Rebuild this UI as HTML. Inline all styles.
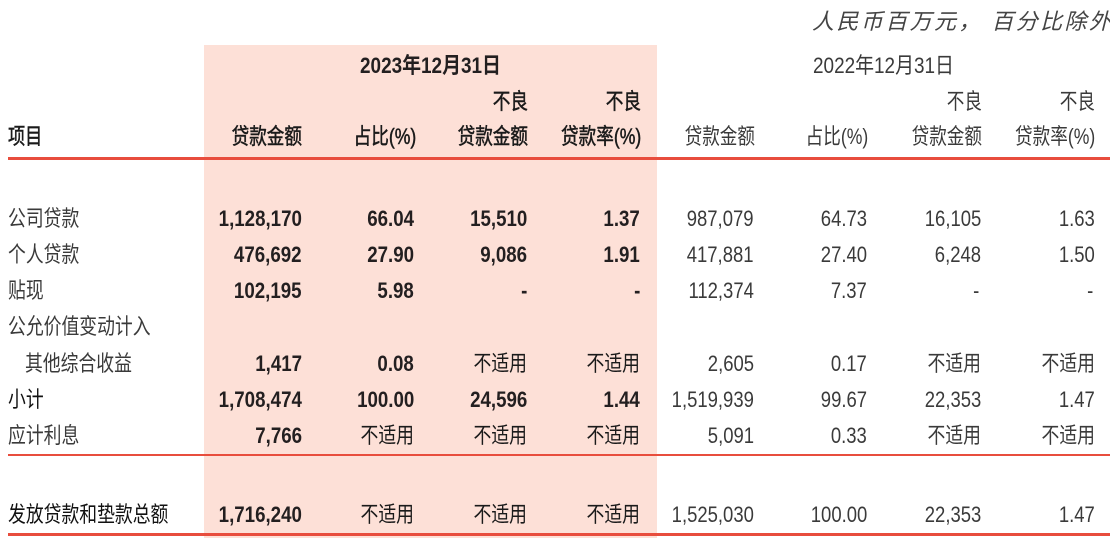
<!DOCTYPE html>
<html>
<head>
<meta charset="utf-8">
<style>
html,body{margin:0;padding:0;}
body{width:1110px;height:538px;background:#fff;position:relative;overflow:hidden;font-family:"Liberation Sans","Noto Sans CJK SC",sans-serif;}
.t{position:absolute;white-space:nowrap;font-size:22px;line-height:22px;color:#3a3a3a;}
.r{transform-origin:right center;}
.l{transform-origin:left center;}
.b{font-weight:bold;color:#231f20;}
.hb{color:#1a1a1a;-webkit-text-stroke:0.5px #1a1a1a;}
.n{transform:scaleX(.85);}
.m{transform:scaleX(.84);}
.c{transform:scaleX(.81);}
.h{transform:scaleX(.8);}
.shade{position:absolute;left:204px;top:45px;width:453px;height:493px;background:#fde0d7;}
.line{position:absolute;left:8px;right:0;background:#e84d3d;}
</style>
</head>
<body>
<div class="shade"></div>
<div class="line" style="top:157px;height:3px;"></div>
<div class="line" style="top:454px;height:2px;"></div>
<div class="line" style="top:533px;height:3px;"></div>

<!-- unit note -->
<div class="t" style="left:812px;top:10px;font-size:22px;line-height:24px;font-style:italic;letter-spacing:2.4px;color:#444;">人民币百万元，&nbsp;百分比除外</div>

<!-- year headers -->
<div class="t b" style="left:204px;width:453px;text-align:center;top:55px;transform:scaleX(.86);">2023年12月31日</div>
<div class="t" style="left:657px;width:453px;text-align:center;top:55px;transform:scaleX(.86);">2022年12月31日</div>

<!-- 不良 -->
<div class="t hb r h" style="right:582px;top:91px;">不良</div>
<div class="t hb r h" style="right:469px;top:91px;">不良</div>
<div class="t r h" style="right:128px;top:91px;">不良</div>
<div class="t r h" style="right:15px;top:91px;">不良</div>

<!-- header row -->
<div class="t hb l" style="left:8px;top:126px;transform:scaleX(.78);">项目</div>
<div class="t hb r h" style="right:808px;top:126px;">贷款金额</div>
<div class="t hb r h" style="right:694px;top:126px;">占比(%)</div>
<div class="t hb r h" style="right:582px;top:126px;">贷款金额</div>
<div class="t hb r h" style="right:469px;top:126px;">贷款率(%)</div>
<div class="t r h" style="right:355px;top:126px;">贷款金额</div>
<div class="t r h" style="right:242px;top:126px;">占比(%)</div>
<div class="t r h" style="right:128px;top:126px;">贷款金额</div>
<div class="t r h" style="right:15px;top:126px;">贷款率(%)</div>

<!-- row 1 公司贷款 -->
<div class="t l c" style="left:8px;top:208px;">公司贷款</div>
<div class="t b r n" style="right:808px;top:208px;">1,128,170</div>
<div class="t b r n" style="right:696px;top:208px;">66.04</div>
<div class="t b r n" style="right:583px;top:208px;">15,510</div>
<div class="t b r n" style="right:470px;top:208px;">1.37</div>
<div class="t r m" style="right:356px;top:208px;">987,079</div>
<div class="t r m" style="right:243px;top:208px;">64.73</div>
<div class="t r m" style="right:129px;top:208px;">16,105</div>
<div class="t r m" style="right:15px;top:208px;">1.63</div>

<!-- row 2 个人贷款 -->
<div class="t l c" style="left:8px;top:244px;">个人贷款</div>
<div class="t b r n" style="right:808px;top:244px;">476,692</div>
<div class="t b r n" style="right:696px;top:244px;">27.90</div>
<div class="t b r n" style="right:583px;top:244px;">9,086</div>
<div class="t b r n" style="right:470px;top:244px;">1.91</div>
<div class="t r m" style="right:356px;top:244px;">417,881</div>
<div class="t r m" style="right:243px;top:244px;">27.40</div>
<div class="t r m" style="right:129px;top:244px;">6,248</div>
<div class="t r m" style="right:15px;top:244px;">1.50</div>

<!-- row 3 贴现 -->
<div class="t l c" style="left:8px;top:280px;">贴现</div>
<div class="t b r n" style="right:808px;top:280px;">102,195</div>
<div class="t b r n" style="right:696px;top:280px;">5.98</div>
<div class="t b r n" style="right:583px;top:280px;">-</div>
<div class="t b r n" style="right:470px;top:280px;">-</div>
<div class="t r m" style="right:356px;top:280px;">112,374</div>
<div class="t r m" style="right:243px;top:280px;">7.37</div>
<div class="t r m" style="right:131px;top:280px;">-</div>
<div class="t r m" style="right:17px;top:280px;">-</div>

<!-- row 4 公允价值变动计入 -->
<div class="t l c" style="left:8px;top:316px;">公允价值变动计入</div>

<!-- row 5 其他综合收益 -->
<div class="t l c" style="left:25px;top:353px;">其他综合收益</div>
<div class="t b r n" style="right:808px;top:353px;">1,417</div>
<div class="t b r n" style="right:696px;top:353px;">0.08</div>
<div class="t r c" style="right:583px;top:353px;color:#1a1a1a;">不适用</div>
<div class="t r c" style="right:470px;top:353px;color:#1a1a1a;">不适用</div>
<div class="t r m" style="right:356px;top:353px;">2,605</div>
<div class="t r m" style="right:243px;top:353px;">0.17</div>
<div class="t r c" style="right:129px;top:353px;">不适用</div>
<div class="t r c" style="right:15px;top:353px;">不适用</div>

<!-- row 6 小计 -->
<div class="t l c" style="left:8px;top:389px;color:#111;">小计</div>
<div class="t b r n" style="right:808px;top:389px;">1,708,474</div>
<div class="t b r n" style="right:696px;top:389px;">100.00</div>
<div class="t b r n" style="right:583px;top:389px;">24,596</div>
<div class="t b r n" style="right:470px;top:389px;">1.44</div>
<div class="t r m" style="right:356px;top:389px;">1,519,939</div>
<div class="t r m" style="right:243px;top:389px;">99.67</div>
<div class="t r m" style="right:129px;top:389px;">22,353</div>
<div class="t r m" style="right:15px;top:389px;">1.47</div>

<!-- row 7 应计利息 -->
<div class="t l c" style="left:8px;top:425px;">应计利息</div>
<div class="t b r n" style="right:808px;top:425px;">7,766</div>
<div class="t r c" style="right:696px;top:425px;color:#1a1a1a;">不适用</div>
<div class="t r c" style="right:583px;top:425px;color:#1a1a1a;">不适用</div>
<div class="t r c" style="right:470px;top:425px;color:#1a1a1a;">不适用</div>
<div class="t r m" style="right:356px;top:425px;">5,091</div>
<div class="t r m" style="right:243px;top:425px;">0.33</div>
<div class="t r c" style="right:129px;top:425px;">不适用</div>
<div class="t r c" style="right:15px;top:425px;">不适用</div>

<!-- row 8 发放贷款和垫款总额 -->
<div class="t l c" style="left:8px;top:504px;color:#111;">发放贷款和垫款总额</div>
<div class="t b r n" style="right:808px;top:504px;">1,716,240</div>
<div class="t r c" style="right:696px;top:504px;color:#1a1a1a;">不适用</div>
<div class="t r c" style="right:583px;top:504px;color:#1a1a1a;">不适用</div>
<div class="t r c" style="right:470px;top:504px;color:#1a1a1a;">不适用</div>
<div class="t r m" style="right:356px;top:504px;">1,525,030</div>
<div class="t r m" style="right:243px;top:504px;">100.00</div>
<div class="t r m" style="right:129px;top:504px;">22,353</div>
<div class="t r m" style="right:15px;top:504px;">1.47</div>
</body>
</html>
